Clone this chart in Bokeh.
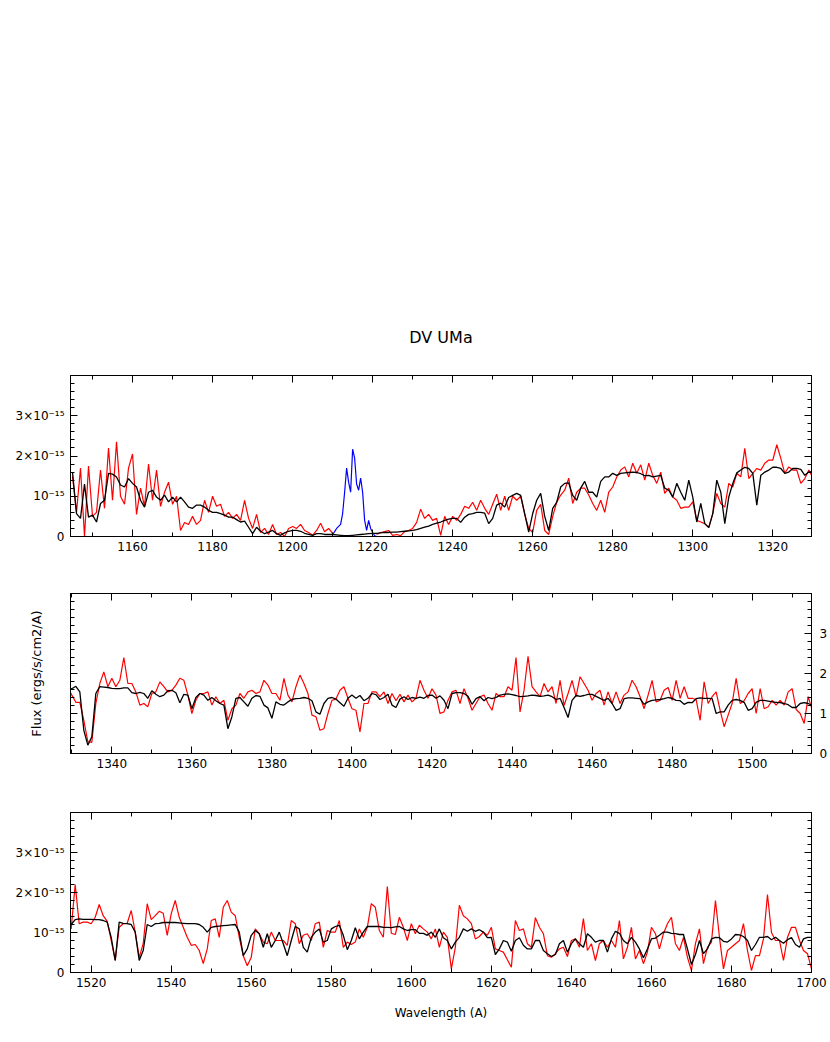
import numpy as np
from bokeh.plotting import figure
from bokeh.models import LinearAxis, FixedTicker, Range1d
from bokeh.layouts import column
from bokeh.embed import file_html
from bokeh.resources import INLINE

TITLE = "DV UMa"
X_LABEL = "Wavelength (A)"
Y_LABEL = "Flux (ergs/s/cm2/A)"
# flux values are given in units of 1e-15 ergs/s/cm2/A
WAVE_START = 1145
WAVE_STOP = 1700

# observed spectrum (red), one value per Angstrom from 1145 A; None = masked (geocoronal Ly-alpha)
obs_1145_1200 = [1.5, 0.6, 1.7, 0.0, 1.75, 0.5, 0.6, 1.65, 0.7, 2.2,
                 0.9, 2.35, 1.0, 0.8, 1.7, 2.05, 0.55, 1.2, 0.75, 1.8,
                 0.9, 1.65, 0.75, 1.1, 1.35, 0.8, 1.0, 0.15, 0.35, 0.3,
                 0.5, 0.3, 0.4, 0.9, 0.6, 1.0, 0.75, 0.8, 0.5, 0.6,
                 0.45, 0.55, 0.4, 0.9, 0.45, 0.2, 0.55, 0.1, 0.2, 0.05,
                 0.3, 0.05, 0.1, 0.0, 0.2, 0.25]
obs_1201_1266 = [0.2, 0.3, 0.15, 0.1, 0.03, 0.15, 0.33, 0.12, 0.2, 0.08,
                 None, None, None, None, None, None, None, None, None, None,
                 0.05, 0.1, 0.12, 0.15, 0.03, 0.05, 0.02, 0.12, 0.15, 0.2,
                 0.35, 0.68, 0.45, 0.55, 0.4, 0.45, 0.03, 0.5, 0.3, 0.5,
                 0.4, 0.55, 0.75, 0.7, 0.85, 0.65, 0.9, 0.7, 0.55, 0.8,
                 1.05, 0.65, 1.0, 0.65, 1.0, 0.9, 1.0, 0.55, 0.2, 0.1,
                 0.65, 0.8, 0.15, 0.05, 0.5, 0.85]
obs_1267_1329 = [1.03, 1.15, 1.45, 0.82, 1.1, 1.2, 1.2, 1.03, 0.82, 0.65,
                 0.9, 0.6, 1.1, 1.23, 1.48, 1.65, 1.73, 1.48, 1.82, 1.57,
                 1.78, 1.4, 1.82, 1.52, 1.32, 1.6, 1.07, 1.2, 0.98, 0.9,
                 0.7, 0.73, 0.73, 0.86, 0.4, 0.36, 0.32, 0.23, 0.57, 1.07,
                 0.82, 0.73, 1.32, 1.23, 1.57, 1.48, 2.19, 1.44, 1.57, 1.69,
                 1.65, 1.82, 1.9, 1.9, 2.28, 1.94, 1.57, 1.73, 1.65, 1.65,
                 1.32, 1.44, 1.65]
obs_1330_1387 = [1.46, 1.28, 1.28, 0.83, 0.3, 0.28, 1.25, 1.75, 2.04, 1.67,
                 1.88, 1.67, 1.83, 2.4, 1.75, 1.75, 1.54, 1.21, 1.25, 1.17,
                 1.5, 1.54, 1.79, 1.67, 1.54, 1.58, 1.71, 1.88, 1.83, 1.46,
                 1.0, 1.33, 1.5, 1.5, 1.54, 1.21, 1.42, 1.25, 1.33, 0.83,
                 1.12, 1.21, 1.5, 1.38, 1.54, 1.58, 1.5, 1.54, 1.83, 1.71,
                 1.5, 1.5, 1.33, 1.88, 1.46, 1.29, 1.67, 1.96]
obs_1388_1451 = [1.75, 1.5, 0.96, 0.92, 0.58, 0.62, 1.0, 1.33, 1.36, 1.58,
                 1.67, 1.38, 1.12, 1.08, 0.54, 1.25, 1.25, 1.54, 1.54, 1.42,
                 1.54, 1.25, 1.5, 1.32, 1.48, 1.29, 1.46, 1.29, 1.38, 1.83,
                 1.58, 1.38, 1.62, 1.46, 1.0, 1.04, 1.33, 1.54, 1.58, 1.25,
                 1.62, 1.38, 1.08, 1.25, 1.42, 1.46, 1.25, 1.08, 1.5, 1.42,
                 1.42, 1.67, 1.58, 2.4, 1.04, 1.58, 2.43, 1.67, 1.54, 1.42,
                 1.75, 1.54, 1.67, 1.25]
obs_1452_1515 = [1.83, 1.2, 1.5, 1.83, 1.42, 1.92, 1.75, 1.58,
                 1.33, 1.5, 1.58, 1.21, 1.54, 1.25, 1.54, 1.25, 1.46, 1.54,
                 1.83, 1.67, 1.42, 1.12, 1.46, 1.83, 1.29, 1.33, 1.58, 1.65,
                 1.33, 1.83, 1.38, 1.67, 1.38, 1.38, 1.35, 0.83, 1.79, 1.25,
                 1.42, 1.54, 1.08, 0.67, 0.96, 1.25, 1.88, 1.25, 1.32, 1.5,
                 1.62, 1.0, 1.62, 1.12, 1.17, 1.33, 1.21, 1.33, 1.21, 1.54,
                 1.62, 1.1, 1.0, 0.75, 1.42, 1.09]
obs_1516_1572 = [2.2, 1.22, 1.26, 1.26,
                 1.22, 1.38, 1.7, 1.42, 1.28, 0.8, 0.3, 1.13, 1.22, 1.23,
                 1.55, 1.01, 0.38, 0.72, 1.72, 1.32, 1.42, 1.53, 1.48, 0.93,
                 1.47, 1.8, 1.38, 1.13, 0.88, 0.68, 0.7, 0.55, 0.22, 0.59,
                 1.3, 1.34, 0.88, 1.63, 1.8, 1.51, 1.42, 0.88, 0.42, 0.17,
                 0.38, 1.09, 0.97, 0.76, 0.72, 1.01, 0.8, 0.8, 0.8, 0.68,
                 1.3, 1.22, 0.72]
obs_1573_1636 = [0.93, 0.97, 0.8, 1.22, 1.26, 0.63, 1.05,
                 1.01, 1.01, 1.3, 0.63, 0.76, 0.7, 0.76, 1.09, 0.88, 1.13,
                 1.72, 1.63, 1.05, 0.88, 2.15, 0.98, 0.95, 1.38, 1.13, 0.8,
                 1.22, 0.97, 1.18, 1.09, 1.01, 0.84, 1.09, 0.63, 1.01, 0.88,
                 0.09, 0.63, 1.68, 1.42, 1.34, 1.22, 0.84, 0.9, 1.01, 0.93,
                 1.13, 0.59, 0.55, 0.51, 0.32, 0.13, 1.3, 1.05, 1.09, 0.72,
                 0.63, 1.37, 1.13, 0.97, 0.42, 0.38, 0.47]
obs_1637_1700 = [0.59, 0.63, 0.4,
                 0.8, 0.84, 0.63, 1.35, 0.55, 0.72, 0.3, 0.72, 0.8, 0.63,
                 0.8, 0.63, 1.3, 0.34, 0.63, 1.13, 0.34, 0.55, 0.22, 0.51,
                 1.13, 0.97, 0.59, 0.97, 1.22, 1.38, 0.72, 0.55, 0.88, 0.38,
                 0.05, 0.72, 1.09, 0.22, 0.63, 0.76, 1.8, 0.88, 0.09, 0.55,
                 0.63, 0.72, 0.8, 1.22, 0.55, 0.05, 0.42, 0.42, 0.84, 1.95,
                 1.0, 0.8, 0.8, 0.3, 0.88, 1.13, 1.13, 0.8, 0.55, 0.47,
                 0.09]

# model spectrum (black), one value per Angstrom from 1145 A
model_1145_1200 = [1.6, 0.57, 0.45, 1.3, 0.48, 0.53, 0.36, 0.82, 0.9, 1.57,
                   1.55, 1.48, 1.28, 1.23, 1.44, 1.32, 1.23, 0.9, 0.73, 1.1,
                   1.15, 0.98, 0.9, 1.03, 0.86, 0.98, 0.86, 0.98, 0.86, 0.73,
                   0.7, 0.78, 0.78, 0.73, 0.65, 0.6, 0.6, 0.57, 0.53, 0.48,
                   0.48, 0.42, 0.36, 0.38, 0.23, 0.07, 0.23, 0.13, 0.07, 0.11,
                   0.15, 0.07, 0.03, 0.09, 0.13, 0.15]
model_1201_1266 = [0.15, 0.13, 0.08, 0.05, 0.03, 0.07, 0.07, 0.05, 0.05, 0.05,
                   0.04, 0.03, 0.02, 0.02, 0.03, 0.04, 0.05, 0.06, 0.07, 0.08,
                   0.08, 0.09, 0.1, 0.1, 0.11, 0.11, 0.12, 0.13, 0.14, 0.15,
                   0.17, 0.2, 0.23, 0.26, 0.3, 0.33, 0.36, 0.4, 0.43, 0.45,
                   0.45, 0.35, 0.48, 0.55, 0.57, 0.6, 0.6, 0.58, 0.32, 0.45,
                   0.78, 0.83, 0.73, 0.97, 1.02, 1.07, 1.02, 0.57, 0.11, 0.57,
                   0.9, 1.07, 0.5, 0.15, 0.7, 0.85]
model_1267_1329 = [1.23, 1.32, 1.33, 1.02, 0.9, 1.2, 1.37, 1.1, 1.1, 0.98,
                   1.37, 1.48, 1.48, 1.57, 1.52, 1.57, 1.58, 1.59, 1.6, 1.59,
                   1.56, 1.51, 1.52, 1.48, 1.5, 1.52, 1.2, 1.15, 0.98, 1.32,
                   1.1, 0.9, 1.4, 0.98, 0.36, 0.82, 0.32, 0.22, 0.57, 1.4,
                   1.1, 0.32, 0.98, 1.32, 1.58, 1.65, 1.72, 1.69, 1.57, 0.78,
                   1.52, 1.6, 1.65, 1.72, 1.72, 1.69, 1.57, 1.6, 1.69, 1.69,
                   1.67, 1.52, 1.6]
model_1330_1387 = [1.62, 1.68, 1.54, 0.58, 0.21, 0.42, 1.5, 1.67, 1.66, 1.65,
                   1.63, 1.62, 1.62, 1.64, 1.64, 1.52, 1.5, 1.53, 1.5, 1.38,
                   1.57, 1.48, 1.42, 1.46, 1.57, 1.58, 1.52, 1.27, 1.48, 1.46,
                   1.12, 1.4, 1.5, 1.46, 1.33, 1.4, 1.32, 1.25, 1.21, 0.62,
                   0.92, 1.38, 1.4, 1.29, 1.18, 1.38, 1.45, 1.43, 1.21, 1.14,
                   0.88, 1.29, 1.23, 1.21, 1.29, 1.35, 1.37, 1.38]
model_1388_1451 = [1.4, 1.38, 1.32, 1.04, 0.98, 1.25, 1.38, 1.4, 1.36, 1.27,
                   1.18, 1.38, 1.46, 1.38, 1.45, 1.32, 1.38, 1.5, 1.47, 1.35,
                   1.4, 1.48, 1.21, 1.15, 1.36, 1.42, 1.35, 1.4, 1.38, 1.41,
                   1.38, 1.45, 1.46, 1.38, 1.44, 1.33, 1.12, 1.5, 1.52, 1.52,
                   1.5, 1.43, 1.23, 1.37, 1.42, 1.32, 1.4, 1.37, 1.4, 1.46,
                   1.48, 1.49, 1.47, 1.45, 1.42, 1.43, 1.44, 1.46, 1.45, 1.43,
                   1.44, 1.46, 1.42, 1.35]
model_1452_1515 = [1.38, 1.15, 0.9, 1.33, 1.45, 1.43, 1.45, 1.48,
                   1.48, 1.43, 1.38, 1.33, 1.38, 1.25, 1.08, 1.12, 1.37, 1.39,
                   1.39, 1.38, 1.37, 1.23, 1.29, 1.33, 1.34, 1.35, 1.37, 1.4,
                   1.38, 1.33, 1.32, 1.23, 1.28, 1.27, 1.37, 1.39, 1.38, 1.38,
                   1.37, 1.0, 1.04, 1.04, 1.21, 1.33, 1.35, 1.33, 1.28, 1.08,
                   1.12, 1.28, 1.33, 1.33, 1.31, 1.29, 1.28, 1.27, 1.25, 1.22,
                   1.15, 1.15, 1.25, 1.27, 1.25, 1.2]
model_1516_1572 = [1.32, 1.34, 1.33, 1.33,
                   1.33, 1.32, 1.32, 1.3, 1.26, 0.88, 0.3, 1.26, 1.23, 1.22,
                   1.2, 1.01, 0.3, 0.55, 1.2, 1.15, 1.22, 1.23, 1.25, 1.25,
                   1.25, 1.25, 1.24, 1.23, 1.22, 1.22, 1.22, 1.2, 1.13, 1.01,
                   1.13, 1.15, 1.16, 1.17, 1.18, 1.19, 1.2, 1.01, 0.42, 0.59,
                   0.93, 1.05, 0.97, 0.63, 0.97, 0.63, 0.8, 1.01, 0.72, 0.42,
                   0.8, 1.15, 1.09]
model_1573_1636 = [0.63, 0.51, 0.88, 1.01, 1.09, 0.76, 0.8,
                   1.09, 1.15, 1.18, 0.93, 0.57, 0.8, 1.12, 0.84, 1.01, 1.15,
                   1.15, 1.15, 1.15, 1.13, 1.13, 1.12, 1.14, 1.15, 1.09, 1.05,
                   1.07, 1.07, 0.98, 0.98, 0.93, 1.01, 0.88, 1.09, 0.87, 0.8,
                   0.59, 0.76, 0.88, 1.09, 1.03, 1.09, 1.03, 1.07, 1.01, 0.87,
                   0.88, 0.45, 0.59, 0.8, 0.76, 0.53, 0.8, 0.87, 0.68, 0.59,
                   0.59, 0.8, 0.8, 0.55, 0.47, 0.4, 0.45]
model_1637_1700 = [0.72, 0.8, 0.51,
                   0.72, 0.84, 0.72, 0.63, 0.97, 0.88, 0.76, 0.8, 0.8, 0.51,
                   0.84, 1.03, 0.98, 0.8, 0.72, 0.88, 0.76, 0.59, 0.37, 0.59,
                   0.84, 0.86, 0.93, 1.01, 1.01, 0.98, 0.97, 0.95, 0.95, 0.59,
                   0.2, 0.45, 0.8, 0.47, 0.59, 0.84, 0.88, 0.87, 0.78, 0.76,
                   0.84, 0.95, 0.94, 0.9, 0.8, 0.55, 0.7, 0.88, 0.88, 0.9,
                   0.82, 0.88, 0.8, 0.73, 0.82, 0.87, 0.7, 0.63, 0.84, 0.88,
                   0.88]

# geocoronal Ly-alpha segment (blue)
lya_wave = [1210.0, 1210.5, 1211.0, 1211.5, 1212.0, 1212.5, 1213.0, 1213.5,
            1214.0, 1214.5, 1215.0, 1215.5, 1216.0, 1216.5, 1217.0, 1217.5,
            1218.0, 1218.5, 1219.0, 1219.5, 1220.0, 1220.5, 1221.0]
lya_flux = [0.05, 0.12, 0.2, 0.25, 0.3, 0.57, 1.1, 1.7,
            1.35, 1.1, 2.17, 1.95, 1.3, 1.15, 1.45, 1.1,
            0.4, 0.15, 0.4, 0.2, 0.1, 0.02, 0.0]

# panel wavelength ranges
panel_ranges = [(1144.5, 1329.67), (1329.67, 1514.83), (1514.83, 1700.0)]
x_major = list(range(1140, 1721, 20))
x_minor = list(range(1140, 1711, 10))
y_major = [0, 1, 2, 3]
y_minor = [round(0.2 * i, 1) for i in range(21)]
left_labels = {0: "0", 1: "10\u207b\u00b9\u2075", 2: "2\u00d710\u207b\u00b9\u2075", 3: "3\u00d710\u207b\u00b9\u2075"}
right_labels = {0: "0", 1: "1", 2: "2", 3: "3"}

obs = np.array([np.nan if v is None else v for v in
                obs_1145_1200 + obs_1201_1266 + obs_1267_1329 + obs_1330_1387 +
                obs_1388_1451 + obs_1452_1515 + obs_1516_1572 + obs_1573_1636 +
                obs_1637_1700], dtype=float)
model = np.array(model_1145_1200 + model_1201_1266 + model_1267_1329 + model_1330_1387 +
                 model_1388_1451 + model_1452_1515 + model_1516_1572 + model_1573_1636 +
                 model_1637_1700, dtype=float)
wave = np.arange(WAVE_START, WAVE_START + len(obs), dtype=float)
wave_m = np.arange(WAVE_START, WAVE_START + len(model), dtype=float)

FONT = "DejaVu Sans"


def style_axis(ax, show_labels, labels=None, standoff=6):
    ax.axis_line_color = "black"
    ax.major_tick_line_color = "black"
    ax.minor_tick_line_color = "black"
    ax.major_tick_in = 7
    ax.major_tick_out = 0
    ax.minor_tick_in = 4
    ax.minor_tick_out = 0
    ax.major_label_text_font = FONT
    ax.axis_label_text_font = FONT
    ax.axis_label_text_font_style = "normal"
    ax.axis_label_text_color = "black"
    ax.axis_label_text_font_size = "12px"
    if show_labels:
        ax.major_label_text_color = "black"
        ax.major_label_text_font_size = "12px"
        ax.major_label_standoff = standoff
        if labels is not None:
            ax.major_label_overrides = labels
    else:
        # tick marks only: labels are neither drawn nor given room
        ax.major_label_text_color = None
        ax.major_label_text_font_size = "0px"
        ax.major_label_standoff = 0


def make_panel(idx, height, top, bottom):
    x0, x1 = panel_ranges[idx]
    p = figure(width=830, height=height, x_range=Range1d(x0, x1), y_range=Range1d(0, 4),
               output_backend="svg", toolbar_location=None,
               min_border_left=70, min_border_right=18,
               min_border_top=top, min_border_bottom=bottom)
    p.xgrid.visible = False
    p.ygrid.visible = False
    p.outline_line_color = "black"
    p.background_fill_color = "white"
    p.border_fill_color = "white"

    xt = FixedTicker(ticks=x_major, minor_ticks=x_minor)
    yt = FixedTicker(ticks=y_major, minor_ticks=y_minor)

    bottom_ax = p.xaxis[0]
    bottom_ax.ticker = xt
    style_axis(bottom_ax, True, standoff=5)
    left_ax = p.yaxis[0]
    left_ax.ticker = yt
    top_ax = LinearAxis(ticker=xt)
    right_ax = LinearAxis(ticker=yt)
    p.add_layout(top_ax, "above")
    p.add_layout(right_ax, "right")
    style_axis(top_ax, False)

    if idx == 1:
        style_axis(left_ax, False)
        left_ax.axis_label = Y_LABEL
        left_ax.axis_label_text_font_size = "13px"
        left_ax.axis_label_standoff = 27
        style_axis(right_ax, True, labels=right_labels, standoff=8)
        right_ax.major_label_text_align = "left"
    else:
        style_axis(left_ax, True, labels=left_labels, standoff=6)
        style_axis(right_ax, False)

    p.line(wave, obs, line_color="#ff0000", line_width=1.2)
    p.line(wave_m, model, line_color="#000000", line_width=1.3)
    p.line(lya_wave, lya_flux, line_color="#0000ff", line_width=1.2)
    return p, top_ax, bottom_ax


p1, p1_top, _ = make_panel(0, 565, 375, 29)
p1_top.axis_label = TITLE
p1_top.axis_label_text_font_size = "16px"
p1_top.axis_label_standoff = 29
p2, _, _ = make_panel(1, 218, 28, 30)
p3, _, p3_bottom = make_panel(2, 259, 29, 70)
p3_bottom.axis_label = X_LABEL
p3_bottom.axis_label_standoff = 16

layout = column(p1, p2, p3, spacing=0)
open("out.html", "w").write(file_html(layout, INLINE))
